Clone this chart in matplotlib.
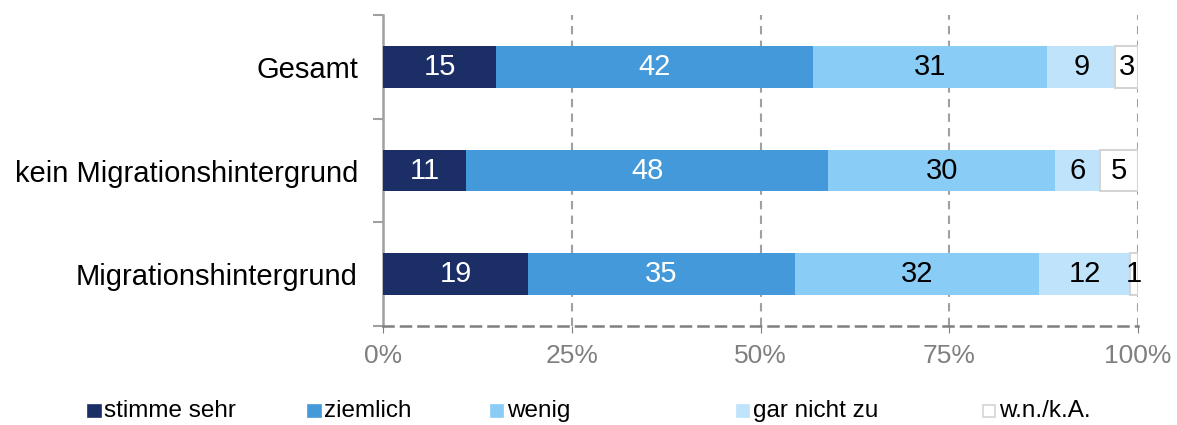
import numpy as np
import matplotlib
matplotlib.use("Agg")
from matplotlib import pyplot as plt
from matplotlib.patches import Rectangle

# ----------------------------------- DATA ----------------------------------- #

groups = ["Gesamt", "kein Migrationshintergrund", "Migrationshintergrund"]
series = ["stimme sehr", "ziemlich", "wenig", "gar nicht zu", "w.n./k.A."]
stimme_sehr = [15, 11, 19]
ziemlich = [42, 48, 35]
wenig = [31, 30, 32]
gar_nicht_zu = [9, 6, 12]
wn_ka = [3, 5, 1]
x_ticks = [0, 25, 50, 75, 100]
x_tick_labels = ["0%", "25%", "50%", "75%", "100%"]

# ---------------------------------- STYLE ----------------------------------- #

colors = ["#1B2F66", "#4499DA", "#89CCF6", "#BFE3FB", "#FFFFFF"]
edges = ["none", "none", "none", "none", "#D4D4D4"]
text_colors = ["white", "white", "black", "black", "black"]
legend_x = [0.075, 0.262, 0.417, 0.626, 0.835]

plt.rcParams["font.family"] = ["Liberation Sans", "DejaVu Sans"]

# ----------------------------------- PLOT ----------------------------------- #


def main():
    values = np.array([stimme_sehr, ziemlich, wenig, gar_nicht_zu, wn_ka], dtype=float)
    shares = values / values.sum(axis=0) * 100  # bars span the full 100%

    fig = plt.figure(figsize=(11.77, 4.25), dpi=100)
    ax = fig.add_axes([0.3254, 0.2329, 0.6415, 0.7318])

    y = np.arange(len(groups)) + 0.5
    left = np.zeros(len(groups))
    for i, name in enumerate(series):
        ax.barh(y, shares[i], left=left, height=0.4, color=colors[i],
                edgecolor=edges[i], linewidth=1.5, zorder=3)
        for j in range(len(groups)):
            ax.text(left[j] + shares[i][j] / 2, y[j], f"{int(values[i][j])}",
                    ha="center", va="center", fontsize=21,
                    color=text_colors[i], zorder=4)
        left += shares[i]

    ax.set_xlim(0, 100)
    ax.set_ylim(3, 0)

    ax.set_xticks(x_ticks)
    ax.set_xticklabels(x_tick_labels, color="#7F7F7F", fontsize=19)
    ax.tick_params(axis="x", length=5, color="#7F7F7F", pad=8)

    ax.set_yticks([0, 1, 2, 3])
    ax.set_yticklabels([])
    ax.set_yticks(y, minor=True)
    ax.set_yticklabels(groups, minor=True, fontsize=21)
    ax.tick_params(axis="y", which="major", length=7, width=1.5, color="#A0A0A0")
    ax.tick_params(axis="y", which="minor", length=0, pad=18)

    for x in x_ticks[1:]:
        ax.axvline(x, color="#A0A0A0", linestyle=(0, (4, 3)), linewidth=1.5, zorder=1)

    ax.spines["top"].set_visible(False)
    ax.spines["right"].set_visible(False)
    ax.spines["left"].set_color("#A0A0A0")
    ax.spines["left"].set_linewidth(1.8)
    ax.spines["bottom"].set_color("#7F7F7F")
    ax.spines["bottom"].set_linewidth(1.8)
    ax.spines["bottom"].set_linestyle((0, (4, 3)))

    # legend, laid out like the original (uneven spacing)
    for i, name in enumerate(series):
        fig.add_artist(Rectangle((legend_x[i], 0.019), 0.0105, 0.029,
                                 transform=fig.transFigure, facecolor=colors[i],
                                 edgecolor=edges[i] if edges[i] != "none" else colors[i],
                                 linewidth=1.2))
        fig.text(legend_x[i] + 0.0135, 0.033, name, fontsize=17.5, va="center", ha="left")

    fig.savefig("out.png", dpi=100)


if __name__ == "__main__":
    main()
